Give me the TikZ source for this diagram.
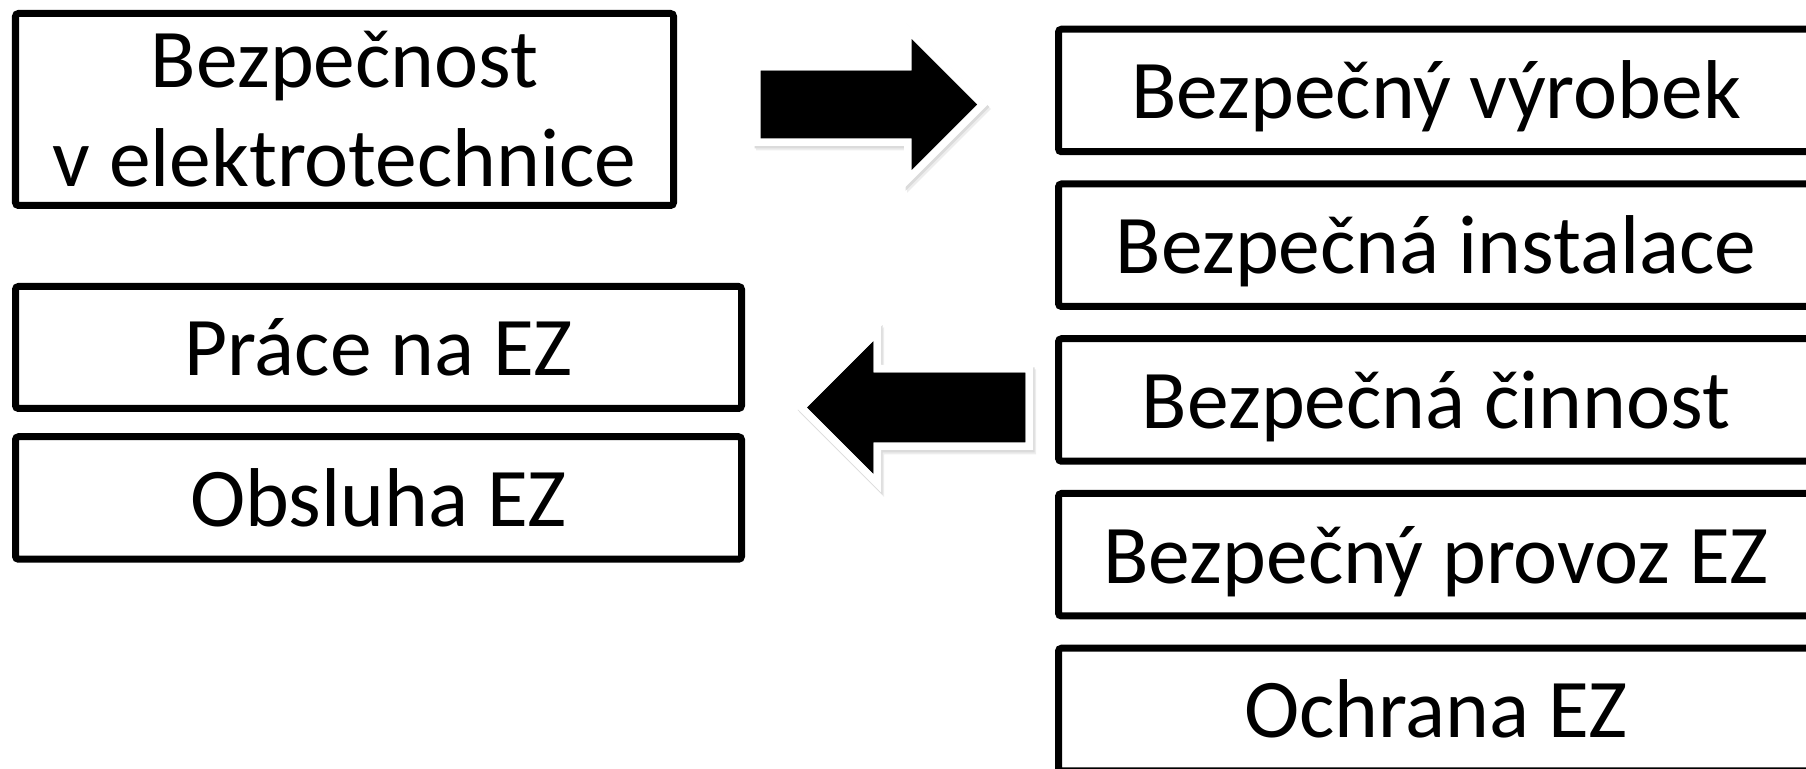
\documentclass[tikz,border=0pt]{standalone}
\usepackage{fontspec}
\setmainfont{Carlito}
\usetikzlibrary{positioning}

\begin{document}
\begin{tikzpicture}[box/.style={draw, line width=0.14cm, rounded corners=0.06cm, inner sep=0pt, align=center, font=\fontsize{47.5pt}{56.3pt}\selectfont}, onerow/.style={text height=1.5cm, text depth=0.36cm}, blockarrow/.style={fill=black, line join=miter, preaction={draw=black!7, fill=black!7, line width=0.32cm, transform canvas={shift={(0.06cm,-0.09cm)}}}, preaction={draw=black!14, fill=black!14, line width=0.32cm, transform canvas={shift={(0.03cm,-0.05cm)}}}, preaction={draw=white, line width=0.32cm}}]

	\useasboundingbox (0,0) rectangle (36.12,15.36);

	\node [box] (BEL) at (6.89,13.17) [minimum width=13.16cm, minimum height=3.84cm]
		{Bezpečnost\\v elektrotechnice};

	\node [box, onerow] (PEZ) at (7.57,8.41) [minimum width=14.52cm, minimum height=2.44cm]
		{Práce na EZ};
	\node [box, onerow] (OEZ) [below of=PEZ, node distance=3.01cm, minimum width=14.52cm, minimum height=2.45cm]
		{Obsluha EZ};

	\node [box, onerow] (BV) at (28.72,13.55) [minimum width=15.1cm, minimum height=2.45cm]
		{Bezpečný výrobek};
	\node [box, onerow] (BI) [below of=BV, node distance=3.095cm, minimum width=15.1cm, minimum height=2.45cm]
		{Bezpečná instalace};
	\node [box, onerow] (BC) [below of=BI, node distance=3.095cm, minimum width=15.1cm, minimum height=2.45cm]
		{Bezpečná činnost};
	\node [box, onerow] (BP) [below of=BC, node distance=3.095cm, minimum width=15.1cm, minimum height=2.45cm]
		{Bezpečný provoz EZ};
	\node [box, onerow] (OCH) [below of=BP, node distance=3.095cm, minimum width=15.1cm, minimum height=2.45cm]
		{Ochrana EZ};

	\draw [blockarrow] (15.22,12.60) -- (15.22,13.94) -- (18.24,13.94) -- (18.24,14.56)
		-- (19.53,13.27) -- (18.24,11.98) -- (18.24,12.60) -- cycle;
	\draw [blockarrow] (20.50,6.52) -- (20.50,7.90) -- (17.46,7.90) -- (17.46,8.52)
		-- (16.15,7.21) -- (17.46,5.90) -- (17.46,6.52) -- cycle;

\end{tikzpicture}
\end{document}
